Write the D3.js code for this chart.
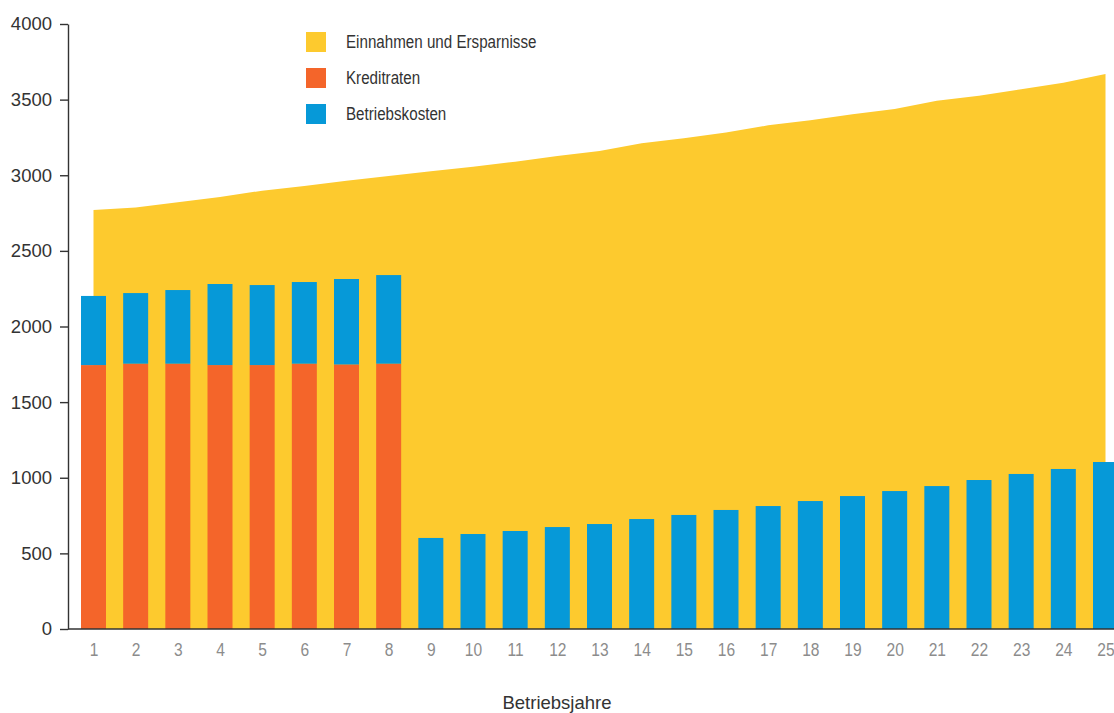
<!DOCTYPE html>
<html>
<head>
<meta charset="utf-8">
<script src="https://cdn.jsdelivr.net/npm/d3@7"></script>
<style>
  body { margin: 0; background: #fff; }
  .ejeY text { font-family: "Liberation Sans", Arial, sans-serif; font-size: 18.5px; fill: #333; }
  .ejeX text { font-family: "Liberation Sans", Arial, sans-serif; font-size: 19px; fill: #8c8c8c; }
  .leyenda text { font-family: "Liberation Sans", Arial, sans-serif; font-size: 18.5px; fill: #333; }
  .titulo { font-family: "Liberation Sans", Arial, sans-serif; font-size: 18.5px; fill: #333; }
</style>
</head>
<body>
<div id="grafica"></div>
<script>
// Datos
anos = ['1', '2', '3', '4', '5', '6', '7', '8', '9', '10', '11', '12', '13',
        '14', '15', '16', '17', '18', '19', '20', '21', '22', '23', '24', '25']
einnahmen = [2770, 2787, 2821, 2856, 2898, 2929, 2964, 2995, 3026, 3057, 3090, 3127, 3160,
             3211, 3244, 3282, 3330, 3363, 3403, 3438, 3493, 3526, 3568, 3612, 3669]
kreditraten = [1745, 1754, 1754, 1745, 1745, 1754, 1749, 1754, 0, 0, 0, 0, 0,
               0, 0, 0, 0, 0, 0, 0, 0, 0, 0, 0, 0]
betriebskosten = [457, 467, 487, 536, 529, 540, 565, 586, 602, 628, 648, 674, 694,
                  727, 754, 787, 813, 846, 879, 912, 945, 985, 1025, 1058, 1104]
yTicks = [0, 500, 1000, 1500, 2000, 2500, 3000, 3500, 4000]
series = ['Einnahmen und Ersparnisse', 'Kreditraten', 'Betriebskosten']
colores = ['#fdca2e', '#f4652a', '#0699d8']

anchototal = 1114
altototal = 713
margin = { top: 24, left: 68, right: 0, bottom: 84 }
ancho = anchototal - margin.left - margin.right
alto = altototal - margin.top - margin.bottom

// la fuente original es estrecha: se comprime en horizontal
estrecho = 'scale(0.82, 1)'

svg = d3.select('#grafica')
  .append('svg')
  .attr('width', anchototal)
  .attr('height', altototal)
g = svg.append('g')
  .attr('transform', `translate(${margin.left}, ${margin.top})`)

x = d3.scalePoint().domain(anos).range([25.5, 1037.5])
y = d3.scaleLinear().domain([0, 4000]).range([alto, 0])
anchoBarra = 25

datos = anos.map((a, i) => ({
  ano: a,
  ein: einnahmen[i],
  kred: kreditraten[i],
  betr: betriebskosten[i]
}))

// Area amarilla
area = d3.area()
  .x(d => x(d.ano))
  .y0(y(0))
  .y1(d => y(d.ein))
g.append('path')
  .datum(datos)
  .attr('fill', colores[0])
  .attr('d', area)

// Barras apiladas
g.selectAll('.kred')
  .data(datos.filter(d => d.kred > 0))
  .enter()
  .append('rect')
  .attr('class', 'kred')
  .attr('x', d => x(d.ano) - anchoBarra / 2)
  .attr('width', anchoBarra)
  .attr('y', d => y(d.kred))
  .attr('height', d => y(0) - y(d.kred))
  .attr('fill', colores[1])

g.selectAll('.betr')
  .data(datos)
  .enter()
  .append('rect')
  .attr('class', 'betr')
  .attr('x', d => x(d.ano) - anchoBarra / 2)
  .attr('width', anchoBarra)
  .attr('y', d => y(d.kred + d.betr))
  .attr('height', d => y(d.kred) - y(d.kred + d.betr))
  .attr('fill', colores[2])

// Ejes
yAxis = g.append('g')
  .attr('class', 'ejeY')
  .call(d3.axisLeft(y).tickValues(yTicks).tickFormat(d3.format('d'))
    .tickSize(8).tickSizeOuter(0).tickPadding(8))
yAxis.selectAll('line, path').attr('stroke', '#333').attr('stroke-width', 1.4)

xAxis = g.append('g')
  .attr('class', 'ejeX')
  .attr('transform', `translate(0, ${alto})`)
  .call(d3.axisBottom(x).tickSize(0).tickPadding(14))
xAxis.select('path').attr('stroke', '#333').attr('stroke-width', 1.6)
  .attr('d', `M0,0H${ancho}`)
xAxis.selectAll('text').attr('transform', estrecho)

svg.append('text')
  .attr('class', 'titulo')
  .attr('x', 557)
  .attr('y', 709)
  .attr('text-anchor', 'middle')
  .text('Betriebsjahre')

// Leyenda
ley = svg.append('g')
  .attr('class', 'leyenda')
  .attr('transform', 'translate(306, 32)')
item = ley.selectAll('g')
  .data(series)
  .enter()
  .append('g')
  .attr('transform', (d, i) => `translate(0, ${i * 36})`)
item.append('rect')
  .attr('width', 20)
  .attr('height', 20)
  .attr('fill', (d, i) => colores[i])
item.append('g')
  .attr('transform', 'translate(40, 0) ' + estrecho)
  .append('text')
  .attr('y', 10)
  .attr('dy', '0.35em')
  .text(d => d)
</script>
</body>
</html>
